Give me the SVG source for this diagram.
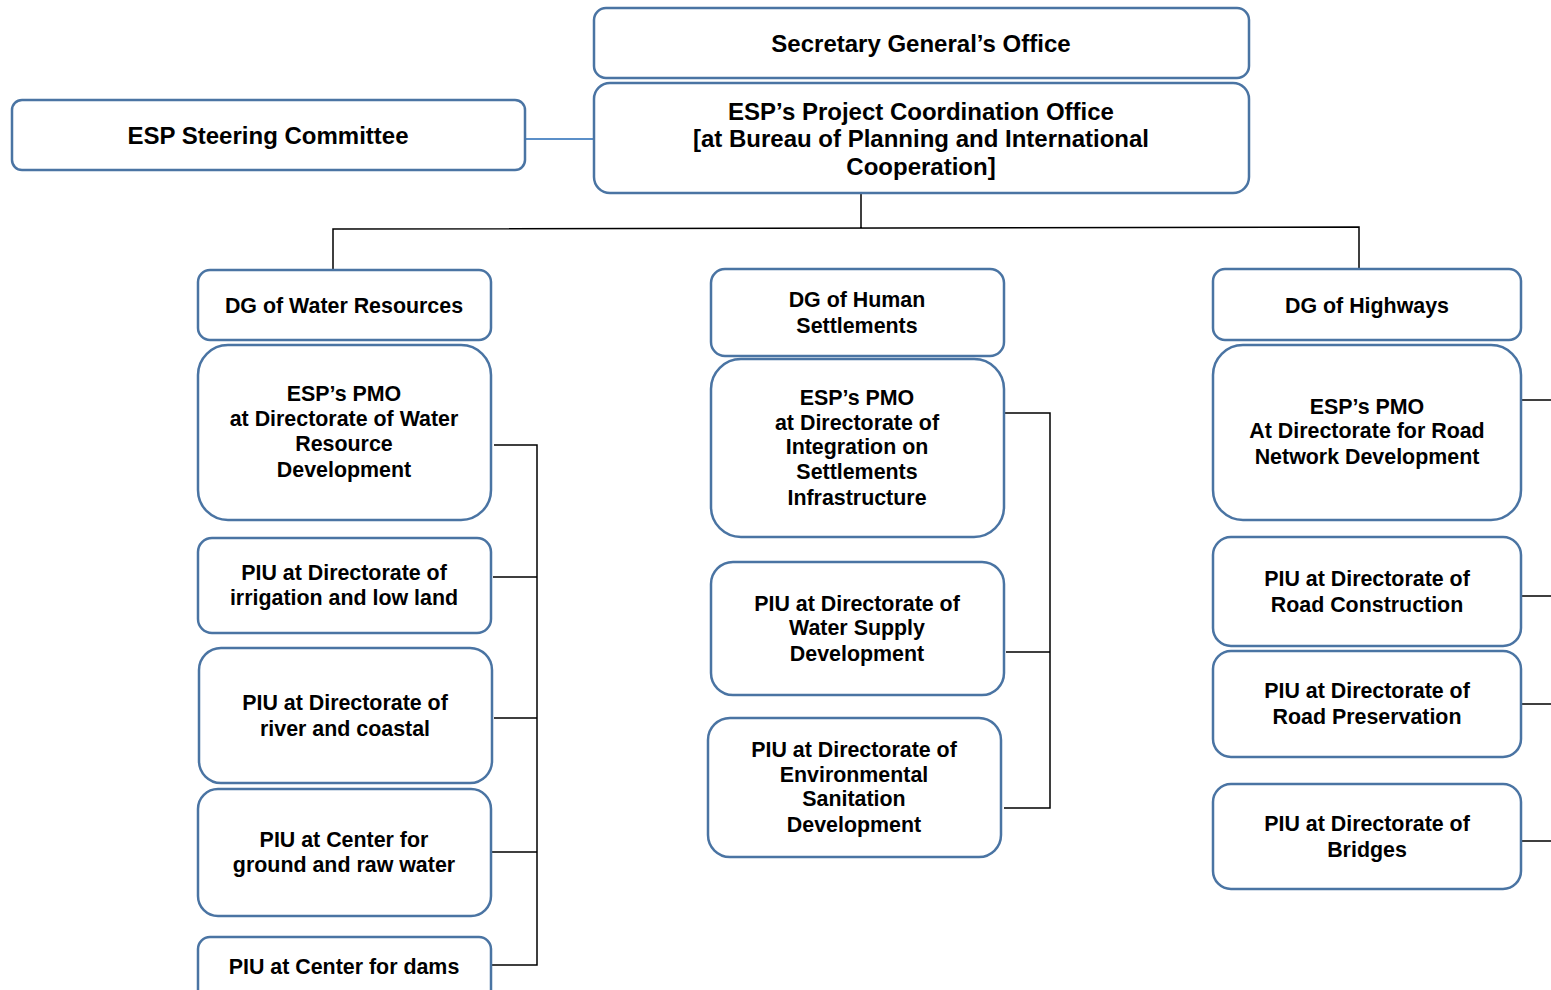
<svg xmlns="http://www.w3.org/2000/svg" width="1551" height="990" viewBox="0 0 1551 990">
<style>
.box{fill:#fff;stroke:#4a74a3;stroke-width:2.5}
.t{font-family:"Liberation Sans",Arial,sans-serif;font-weight:bold;font-size:21.4px;fill:#000;text-anchor:middle}
.big{font-size:24px}
.c{fill:none;stroke:#000;stroke-width:1.5}
.cb{fill:none;stroke:#5b8fc8;stroke-width:1.8}
</style>
<rect width="1551" height="990" fill="#fff"/>
<g id="connectors">
<path class="cb" d="M525 139H594"/>
<path class="c" d="M861 193V229M333 270V229L1359 227V268"/>
<path class="c" d="M494 445H537V965H492M493 577H537M494 718H537M492 852H537"/>
<path class="c" d="M1004 413H1050V808H1004M1006 652H1050"/>
<path class="c" d="M1521 400H1551M1521 596H1551M1521 704H1551M1521 841H1551"/>
</g>
<g id="sg"><rect class="box" x="594" y="8" width="655" height="70" rx="12"/><text class="t big" x="921" y="52">Secretary General’s Office</text></g>
<g id="pco"><rect class="box" x="594" y="83" width="655" height="110" rx="16"/><text class="t big" x="921" y="120">ESP’s Project Coordination Office</text><text class="t big" x="921" y="147">[at Bureau of Planning and International</text><text class="t big" x="921" y="175">Cooperation]</text></g>
<g id="steer"><rect class="box" x="12" y="100" width="513" height="70" rx="10"/><text class="t big" x="268" y="144">ESP Steering Committee</text></g>

<g id="dgw"><rect class="box" x="198" y="270" width="293" height="70" rx="12"/><text class="t" x="344" y="313">DG of Water Resources</text></g>
<g id="pmow"><rect class="box" x="198" y="345" width="293" height="175" rx="30"/><text class="t" x="344" y="401">ESP’s PMO</text><text class="t" x="344" y="426">at Directorate of Water</text><text class="t" x="344" y="451">Resource</text><text class="t" x="344" y="477">Development</text></g>
<g id="piu-irr"><rect class="box" x="198" y="538" width="293" height="95" rx="14"/><text class="t" x="344" y="580">PIU at Directorate of</text><text class="t" x="344" y="605">irrigation and low land</text></g>
<g id="piu-river"><rect class="box" x="199" y="648" width="293" height="135" rx="22"/><text class="t" x="345" y="710">PIU at Directorate of</text><text class="t" x="345" y="736">river and coastal</text></g>
<g id="piu-ground"><rect class="box" x="198" y="789" width="293" height="127" rx="20"/><text class="t" x="344" y="847">PIU at Center for</text><text class="t" x="344" y="872">ground and raw water</text></g>
<g id="piu-dams"><rect class="box" x="198" y="937" width="293" height="70" rx="12"/><text class="t" x="344" y="974">PIU at Center for dams</text></g>

<g id="dgh"><rect class="box" x="711" y="269" width="293" height="87" rx="14"/><text class="t" x="857" y="307">DG of Human</text><text class="t" x="857" y="333">Settlements</text></g>
<g id="pmoh"><rect class="box" x="711" y="359" width="293" height="178" rx="30"/><text class="t" x="857" y="405">ESP’s PMO</text><text class="t" x="857" y="430">at Directorate of</text><text class="t" x="857" y="454">Integration on</text><text class="t" x="857" y="479">Settlements</text><text class="t" x="857" y="505">Infrastructure</text></g>
<g id="piu-ws"><rect class="box" x="711" y="562" width="293" height="133" rx="22"/><text class="t" x="857" y="611">PIU at Directorate of</text><text class="t" x="857" y="635">Water Supply</text><text class="t" x="857" y="661">Development</text></g>
<g id="piu-env"><rect class="box" x="708" y="718" width="293" height="139" rx="22"/><text class="t" x="854" y="757">PIU at Directorate of</text><text class="t" x="854" y="782">Environmental</text><text class="t" x="854" y="806">Sanitation</text><text class="t" x="854" y="832">Development</text></g>

<g id="dghw"><rect class="box" x="1213" y="269" width="308" height="71" rx="12"/><text class="t" x="1367" y="313">DG of Highways</text></g>
<g id="pmor"><rect class="box" x="1213" y="345" width="308" height="175" rx="30"/><text class="t" x="1367" y="414">ESP’s PMO</text><text class="t" x="1367" y="438">At Directorate for Road</text><text class="t" x="1367" y="464">Network Development</text></g>
<g id="piu-rc"><rect class="box" x="1213" y="537" width="308" height="109" rx="18"/><text class="t" x="1367" y="586">PIU at Directorate of</text><text class="t" x="1367" y="612">Road Construction</text></g>
<g id="piu-rp"><rect class="box" x="1213" y="651" width="308" height="106" rx="18"/><text class="t" x="1367" y="698">PIU at Directorate of</text><text class="t" x="1367" y="724">Road Preservation</text></g>
<g id="piu-br"><rect class="box" x="1213" y="784" width="308" height="105" rx="18"/><text class="t" x="1367" y="831">PIU at Directorate of</text><text class="t" x="1367" y="857">Bridges</text></g>
</svg>
